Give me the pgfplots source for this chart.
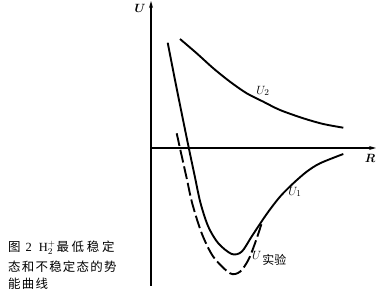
\documentclass[border=0pt]{standalone}
\usepackage{pgfplots}
\pgfplotsset{compat=1.18}
\usepackage{bm}
\usepackage{fontspec}
\setmainfont{Liberation Serif}
\newfontfamily\cjk[LetterSpace=10]{Noto Sans CJK SC}
\newfontfamily\cjkw[LetterSpace=22]{Noto Sans CJK SC}
\newfontfamily\cjkn{Noto Sans CJK SC}
\usetikzlibrary{arrows.meta}
\begin{document}
\begin{tikzpicture}
\begin{axis}[scale only axis, width=385bp, height=300bp,
  xmin=-151, xmax=234, ymin=-152, ymax=148,
  hide axis, clip=false]
\draw[line width=1.3pt,-{Stealth[length=7pt,width=4pt]}] (axis cs:0,-138) -- (axis cs:0,147);
\draw[line width=1.3pt,-{Stealth[length=7pt,width=4pt]}] (axis cs:0,0) -- (axis cs:225,0);
% U2
\addplot[smooth, line width=1.9pt, black] coordinates {
(29,109) (45.7,94.7) (62.3,79.7) (79,66.3) (95.7,54.7) (112.3,46.3)
(129,38) (152.3,29.7) (172.3,24) (192.3,20.3)};
% U1
\addplot[smooth, line width=1.9pt, black] coordinates {
(16.7,105.3) (24,68) (30.7,34.7) (37.8,0) (43.5,-27) (49.5,-55) (57.3,-78.7)
(67.3,-95.3) (80.7,-106) (90.7,-103.7) (101,-88) (115.7,-66) (129,-48.7)
(142.3,-35.3) (155.7,-23.7) (169,-15.3) (192.3,-6)};
% U experimental
\addplot[smooth, line width=1.9pt, black, dash pattern=on 13pt off 4pt] coordinates {
(25.7,14.7) (29,-0.3) (35.7,-30.3) (41.2,-55.3) (50.7,-85.3) (62.3,-108.7)
(79,-125.3) (89,-123.7) (97.3,-112) (104,-95.3) (110.7,-75.3)};
\node at (axis cs:-11,140) {\fontsize{13}{15}\selectfont $\bm{U}$};
\node at (axis cs:219,-10) {\fontsize{13}{15}\selectfont $\bm{R}$};
\node at (axis cs:112,57) {\fontsize{13}{15}\selectfont $U_2$};
\node at (axis cs:144,-44) {\fontsize{13}{15}\selectfont $U_1$};
\node[anchor=west, inner sep=0pt] at (axis cs:101,-110) {\fontsize{13}{15}\selectfont $U$\hspace{1bp}\raisebox{-0.8ex}{\fontsize{12}{14}\selectfont\cjkn 实验}};
\node[anchor=west, inner sep=0pt] at (axis cs:-143,-100) {\fontsize{12.5}{15}\selectfont{\cjkn 图}\hspace{5bp}2\hspace{7bp}H$_2^+$\hspace{1bp}{\cjkw 最低稳定}};
\node[anchor=west, inner sep=0pt] at (axis cs:-143,-119) {\fontsize{12.5}{15}\selectfont\cjk 态和不稳定态的势};
\node[anchor=west, inner sep=0pt] at (axis cs:-143,-136) {\fontsize{12.5}{15}\selectfont\cjk 能曲线};
\end{axis}
\pgfresetboundingbox
\useasboundingbox (current axis.south west) rectangle (current axis.north east);
\end{tikzpicture}
\end{document}
